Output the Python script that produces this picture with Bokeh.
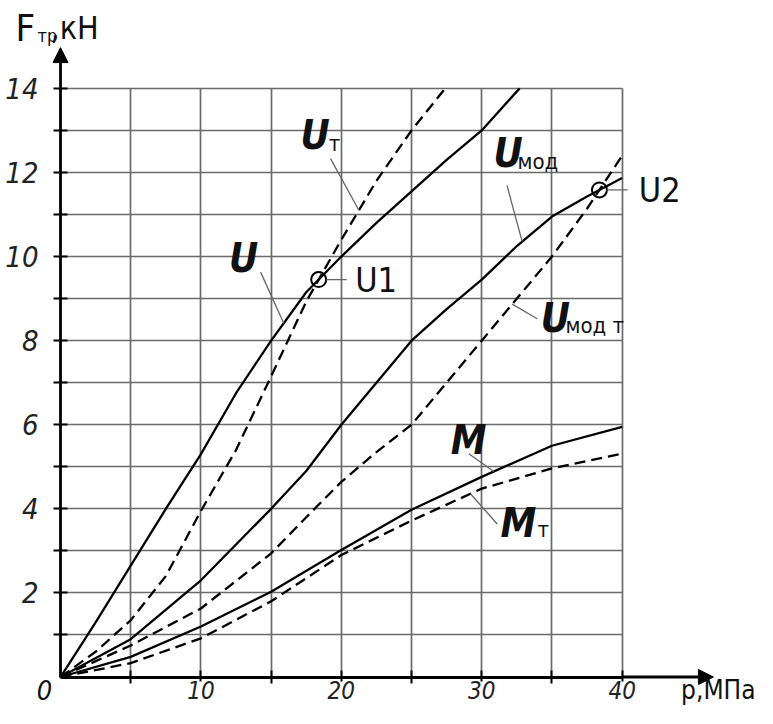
import numpy as np
from bokeh.plotting import figure
from bokeh.models import FixedTicker, Label, Arrow, NormalHead
from bokeh.embed import file_html
from bokeh.resources import INLINE

# ---------------- data ----------------
U_x = [0, 2.5, 5, 7.5, 10, 12.5, 15, 17.5, 20, 22.5, 25, 27.5, 30, 32.7]
U_y = [0, 1.3, 2.65, 4.0, 5.3, 6.75, 8.0, 9.15, 10.0, 10.8, 11.55, 12.3, 13.0, 14.0]

Ut_x = [0, 2.5, 5, 7.5, 10, 12.5, 15, 17.5, 20, 22.5, 25, 27.4]
Ut_y = [0, 0.6, 1.35, 2.4, 3.95, 5.4, 7.15, 8.93, 10.4, 11.8, 13.0, 14.0]

Umod_x = [0, 5, 10, 12.5, 15, 17.5, 20, 22.5, 25, 27.5, 30, 32.5, 35, 37.5, 40]
Umod_y = [0, 0.9, 2.3, 3.15, 4.0, 4.9, 6.0, 7.0, 8.0, 8.75, 9.45, 10.25, 10.95, 11.43, 11.87]

UmodT_x = [0, 5, 10, 15, 17.5, 20, 22.5, 25, 27.5, 30, 32.5, 35, 37.5, 40]
UmodT_y = [0, 0.75, 1.63, 2.94, 3.8, 4.64, 5.35, 6.0, 7.0, 8.0, 9.0, 10.0, 11.14, 12.4]

M_x = [0, 5, 10, 15, 20, 25, 30, 35, 40]
M_y = [0, 0.48, 1.2, 2.03, 3.02, 3.98, 4.76, 5.5, 5.95]
Mt_y = [0, 0.33, 0.92, 1.8, 2.9, 3.72, 4.48, 4.96, 5.31]

x_grid = [5, 10, 15, 20, 25, 30, 35, 40]
y_grid = list(range(1, 15))
x_major = [10, 20, 30, 40]
x_minor = [5, 15, 25, 35]
y_major = [2, 4, 6, 8, 10, 12, 14]
y_minor = [1, 3, 5, 7, 9, 11, 13]

FONT = "DejaVu Sans Condensed, Roboto"


def intersect(xa, ya, xb, yb, after):
    hi = min(max(xa), max(xb))
    xs = np.linspace(after, hi, 4001)
    d = np.interp(xs, xa, ya) - np.interp(xs, xb, yb)
    i = np.where(np.sign(d[:-1]) != np.sign(d[1:]))[0][0]
    x0 = xs[i] - d[i] * (xs[i + 1] - xs[i]) / (d[i + 1] - d[i])
    return x0, float(np.interp(x0, xa, ya))


p = figure(width=757, height=708, x_range=(-4.274, 49.64), y_range=(-0.749, 16.09),
           output_backend="svg", toolbar_location=None, min_border=0)
p.outline_line_color = None
p.background_fill_color = "white"
p.border_fill_color = "white"

# grid
p.xgrid.ticker = FixedTicker(ticks=x_grid)
p.ygrid.ticker = FixedTicker(ticks=y_grid)
p.xgrid.cross_bounds = (0, 14)
p.ygrid.cross_bounds = (0, 40)
for g in (p.xgrid, p.ygrid):
    g.grid_line_color = "#6a6a6a"
    g.grid_line_width = 1.7
    g.grid_line_alpha = 1.0

# axes through the origin
p.xaxis.fixed_location = 0
p.yaxis.fixed_location = 0
p.xaxis.bounds = (0, 40)
p.yaxis.bounds = (0, 14)
p.xaxis.ticker = FixedTicker(ticks=x_major, minor_ticks=x_minor)
p.yaxis.ticker = FixedTicker(ticks=y_major, minor_ticks=y_minor)
for ax in (p.xaxis, p.yaxis):
    ax.axis_line_width = 2.8
    ax.axis_line_color = "black"
    ax.major_tick_line_width = 2
    ax.minor_tick_line_width = 2
    ax.major_tick_line_color = "black"
    ax.minor_tick_line_color = "black"
    ax.major_tick_in = 7
    ax.major_tick_out = 7
    ax.minor_tick_in = 7
    ax.minor_tick_out = 7
    ax.major_label_text_font = FONT
    ax.major_label_text_font_style = "italic"
    ax.major_label_text_color = "#222222"
p.yaxis.major_label_text_font_size = "29px"
p.xaxis.major_label_text_font_size = "24px"
p.yaxis.major_label_standoff = 15
p.xaxis.major_tick_out = 4
p.xaxis.minor_tick_out = 6
p.xaxis.major_label_standoff = -2

# arrows at axis ends
p.add_layout(Arrow(end=NormalHead(size=15, fill_color="black", line_color="black"),
                   x_start=40, y_start=0, x_end=46.5, y_end=0,
                   line_width=2.8, line_color="black"))
p.add_layout(Arrow(end=NormalHead(size=15, fill_color="black", line_color="black"),
                   x_start=0, y_start=14, x_end=0, y_end=14.97,
                   line_width=2.8, line_color="black"))

# curves
solid = dict(line_color="black", line_width=2.3, line_join="round")
dashed = dict(line_color="black", line_width=2.3, line_dash="11 6")
p.line(U_x, U_y, **solid)
p.line(Ut_x, Ut_y, **dashed)
p.line(Umod_x, Umod_y, **solid)
p.line(UmodT_x, UmodT_y, **dashed)
p.line(M_x, M_y, **solid)
p.line(M_x, Mt_y, **dashed)

# intersection points U1, U2
u1 = intersect(U_x, U_y, Ut_x, Ut_y, 5)
u2 = intersect(Umod_x, Umod_y, UmodT_x, UmodT_y, 30)
p.scatter([u1[0], u2[0]], [u1[1], u2[1]], size=15, marker="circle",
          fill_color=None, line_color="black", line_width=2)

# leader lines
lead_x0, lead_y0, lead_x1, lead_y1 = [], [], [], []
for sx, sy, ex, cx, cy in [
    (14.25, 9.63, 15.9, U_x, U_y),
    (19.23, 12.33, 21.25, Ut_x, Ut_y),
    (31.8, 11.69, 32.88, Umod_x, Umod_y),
    (33.95, 8.52, 32.17, UmodT_x, UmodT_y),
    (29.08, 5.31, 30.86, M_x, M_y),
    (31.1, 3.64, 29.2, M_x, Mt_y),
]:
    lead_x0.append(sx); lead_y0.append(sy)
    lead_x1.append(ex); lead_y1.append(float(np.interp(ex, cx, cy)))
for pt in (u1, u2):
    lead_x0.append(pt[0] + 0.55); lead_y0.append(pt[1])
    lead_x1.append(pt[0] + 2.0); lead_y1.append(pt[1])
p.segment(lead_x0, lead_y0, lead_x1, lead_y1, line_color="#666666", line_width=1.3)


def lab(x, y, t, size, style="normal", align="left"):
    p.add_layout(Label(x=x, y=y, text=t, text_font=FONT, text_font_size=size,
                       text_font_style=style, text_align=align, text_baseline="middle",
                       text_color="#111111"))


big = "40px"
sub = "22px"
# U
lab(12.0, 9.955, "U", big, "bold italic")
# U_T
lab(17.1, 12.88, "U", big, "bold italic")
lab(19.1, 12.70, "т", sub)
# U1 / U2
lab(u1[0] + 2.6, u1[1], "U1", "34px")
lab(u2[0] + 2.8, u2[1], "U2", "34px")
# U_mod
lab(30.84, 12.46, "U", big, "bold italic")
lab(32.55, 12.27, "мод", sub)
# U_mod T
lab(34.2, 8.55, "U", big, "bold italic")
lab(35.97, 8.37, "мод т", sub)
# M
lab(27.8, 5.63, "M", big, "bold italic")
# M_T
lab(31.34, 3.66, "M", big, "bold italic")
lab(33.97, 3.52, "т", sub)

# axis titles
lab(-3.2, 15.44, "F", "38px")
lab(-1.64, 15.26, "тр", "18px")
lab(-0.71, 15.44, ",кН", "32px")
lab(44.2, -0.30, "p,МПа", "26px")
lab(-1.14, -0.32, "0", "27px", "italic", align="center")

open("out.html", "w").write(file_html(p, INLINE))
